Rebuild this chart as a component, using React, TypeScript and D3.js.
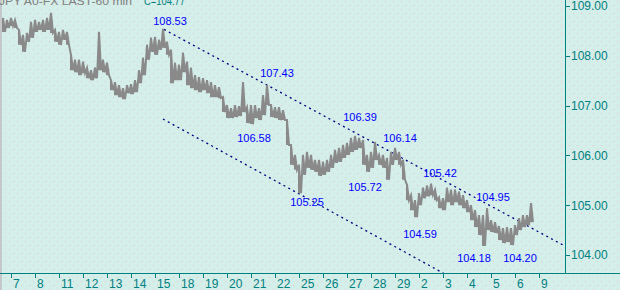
import React from 'react';
import * as d3 from 'd3';

const titleText = 'JPY A0-FX LAST-60 min';
const lastCloseText = 'C=104.77';

const dayLabels = ['7', '8', '11', '12', '13', '14', '15', '18', '19', '20', '21', '22', '25', '26', '27', '28', '29', '2', '3', '4', '5', '6', '9'];
const priceTicks = [104, 105, 106, 107, 108, 109];

// hourly bars, sampled every 4 hours starting 8 hours before the first tick
const barStart = -8;
const barStep = 4;
const highs = [
  108.76, 108.72, 108.76, 108.72, 108.52, 108.42, 108.46, 108.68, 108.72, 108.68,
  108.72, 108.76, 108.86, 108.52, 108.48, 108.52, 108.48, 108.02, 107.92, 107.92,
  107.88, 107.76, 107.71, 107.76, 108.48, 107.92, 107.86, 107.51, 107.47, 107.41,
  107.35, 107.41, 107.43, 107.51, 107.71, 107.96, 108.22, 108.36, 108.38, 108.32,
  108.54, 108.28, 108.12, 107.86, 107.82, 108.06, 107.88, 107.76, 107.61, 107.57,
  107.55, 107.51, 107.47, 107.41, 107.37, 107.17, 107.01, 106.95, 107.01, 106.99,
  107.47, 106.97, 107.01, 107.01, 106.95, 107.21, 107.41, 107.01, 106.97, 106.97,
  106.91, 106.71, 106.21, 106.01, 105.81, 106.01, 106.07, 106.01, 105.91, 105.91,
  105.87, 105.91, 106.01, 106.11, 106.15, 106.21, 106.25, 106.35, 106.39, 106.35,
  106.31, 106.01, 106.07, 106.27, 106.01, 106.01, 105.95, 106.07, 106.15, 106.07,
  105.91, 105.41, 105.20, 105.10, 105.24, 105.35, 105.39, 105.43, 105.31, 105.16,
  105.14, 105.35, 105.31, 105.31, 105.27, 105.20, 105.10, 105.00, 104.90, 104.80,
  104.80, 104.94, 104.70, 104.66, 104.58, 104.54, 104.56, 104.54, 104.60, 104.74,
  104.80, 104.80, 105.04,
];
const lows = [
  108.48, 108.56, 108.60, 108.56, 108.22, 108.08, 108.28, 108.36, 108.48, 108.52,
  108.48, 108.52, 108.46, 108.28, 108.22, 108.32, 108.22, 107.71, 107.67, 107.61,
  107.65, 107.55, 107.51, 107.55, 107.71, 107.67, 107.61, 107.31, 107.21, 107.17,
  107.13, 107.25, 107.23, 107.27, 107.45, 107.61, 107.92, 108.08, 108.02, 108.12,
  108.16, 108.02, 107.45, 107.51, 107.51, 107.67, 107.41, 107.35, 107.31, 107.27,
  107.31, 107.25, 107.17, 107.17, 107.15, 106.87, 106.75, 106.75, 106.77, 106.79,
  106.87, 106.65, 106.63, 106.75, 106.71, 106.81, 107.01, 106.77, 106.75, 106.71,
  106.71, 106.21, 105.81, 105.71, 105.24, 105.61, 105.75, 105.71, 105.67, 105.59,
  105.61, 105.67, 105.75, 105.85, 105.87, 105.95, 106.01, 106.07, 106.11, 106.15,
  105.81, 105.67, 105.75, 105.91, 105.81, 105.75, 105.51, 105.81, 105.91, 105.81,
  105.51, 105.10, 104.90, 104.76, 105.00, 105.14, 105.18, 105.20, 105.10, 104.94,
  104.90, 105.06, 105.00, 105.06, 105.00, 104.94, 104.86, 104.70, 104.56, 104.40,
  104.18, 104.50, 104.46, 104.44, 104.30, 104.24, 104.26, 104.20, 104.40, 104.50,
  104.56, 104.60, 104.66,
];

const upperChannel = [
  { bar: 153, price: 108.53 },
  { bar: 552, price: 104.2 },
];
const lowerChannel = [
  { bar: 152, price: 106.73 },
  { bar: 440, price: 103.55 },
];

const pivotLabels = [
  { bar: 159, price: 108.62, text: '108.53' },
  { bar: 266, price: 107.57, text: '107.43' },
  { bar: 243, price: 106.27, text: '106.58' },
  { bar: 296, price: 104.98, text: '105.25' },
  { bar: 349, price: 106.69, text: '106.39' },
  { bar: 389, price: 106.27, text: '106.14' },
  { bar: 354, price: 105.29, text: '105.72' },
  { bar: 429, price: 105.57, text: '105.42' },
  { bar: 482, price: 105.08, text: '104.95' },
  { bar: 409, price: 104.34, text: '104.59' },
  { bar: 463, price: 103.86, text: '104.18' },
  { bar: 509, price: 103.86, text: '104.20' },
];

const W = 620;
const H = 290;
const plotLeft = 2;
const plotRight = 565;
const plotBottom = 273;
const teal = '#008080';
const font = '"Liberation Sans", Arial, sans-serif';

export default function App() {
  const x = d3.scaleLinear().domain([0, 24 * 22]).range([11, 539]);
  const y = d3.scaleLinear().domain([104, 109]).range([255, 6]);

  const pts: [number, number][] = [];
  highs.forEach((h, i) => {
    const b = barStart + i * barStep;
    pts.push([b, h]);
    pts.push([b + barStep / 2, lows[i]]);
  });
  const line = d3
    .line<[number, number]>()
    .x((d) => x(d[0]))
    .y((d) => y(d[1]));

  const chan = d3
    .line<{ bar: number; price: number }>()
    .x((d) => x(d.bar))
    .y((d) => y(d.price));

  return (
    <svg
      width={W}
      height={H}
      style={{ position: 'absolute', left: 0, top: 0, display: 'block' }}
      fontFamily={font}
    >
      <defs>
        <pattern id="dots" width={8} height={8} patternUnits="userSpaceOnUse">
          <rect width={8} height={8} fill="#d4eee9" />
          <rect x={1} y={1} width={1} height={1} fill="#e8c4cc" />
          <rect x={5} y={5} width={1} height={1} fill="#e8c4cc" />
        </pattern>
        <clipPath id="plot">
          <rect x={plotLeft} y={0} width={plotRight - plotLeft} height={plotBottom} />
        </clipPath>
      </defs>
      <rect width={W} height={H} fill="url(#dots)" />
      <rect x={0} y={0} width={2} height={H} fill="#c4c8c8" />

      <g clipPath="url(#plot)">
        <path d={chan(upperChannel) || ''} stroke="#000080" strokeWidth={1.3} strokeDasharray="2,3.5" fill="none" />
        <path d={chan(lowerChannel) || ''} stroke="#000080" strokeWidth={1.3} strokeDasharray="2,3.5" fill="none" />
        {highs.map((h, i) => {
          const b = barStart + i * barStep;
          return (
            <line
              key={i}
              x1={x(b)}
              x2={x(b)}
              y1={y(h)}
              y2={y(lows[i])}
              stroke="#8a8a8a"
              strokeWidth={2}
            />
          );
        })}
        <path d={line(pts) || ''} stroke="#8a8a8a" strokeWidth={2} fill="none" strokeLinejoin="miter" />
      </g>

      {pivotLabels.map((p) => (
        <text key={p.text} x={x(p.bar)} y={y(p.price)} fill="#0000ff" fontSize={11} textAnchor="middle">
          {p.text}
        </text>
      ))}

      <text x={-1} y={5} fill="#808080" fontSize={11} textLength={133} lengthAdjust="spacingAndGlyphs">
        {titleText}
      </text>
      <text x={144} y={5} fill={teal} fontSize={11} textLength={41} lengthAdjust="spacingAndGlyphs">
        {lastCloseText}
      </text>

      {/* axes */}
      <line x1={0} x2={W} y1={plotBottom + 0.5} y2={plotBottom + 0.5} stroke={teal} />
      <line x1={plotRight + 0.5} x2={plotRight + 0.5} y1={0} y2={plotBottom} stroke={teal} />
      {priceTicks.map((t) => (
        <g key={t}>
          <line x1={plotRight} x2={plotRight + 5} y1={Math.round(y(t)) + 0.5} y2={Math.round(y(t)) + 0.5} stroke={teal} />
          <text x={plotRight + 6} y={y(t)} dy="0.36em" fill={teal} fontSize={12}>
            {t.toFixed(2)}
          </text>
        </g>
      ))}
      {dayLabels.map((d, i) => (
        <g key={i}>
          <line x1={Math.round(x(i * 24)) + 0.5} x2={Math.round(x(i * 24)) + 0.5} y1={plotBottom} y2={plotBottom + 5} stroke={teal} />
          <text x={x(i * 24) + 2} y={288} fill={teal} fontSize={12}>
            {d}
          </text>
        </g>
      ))}
    </svg>
  );
}
